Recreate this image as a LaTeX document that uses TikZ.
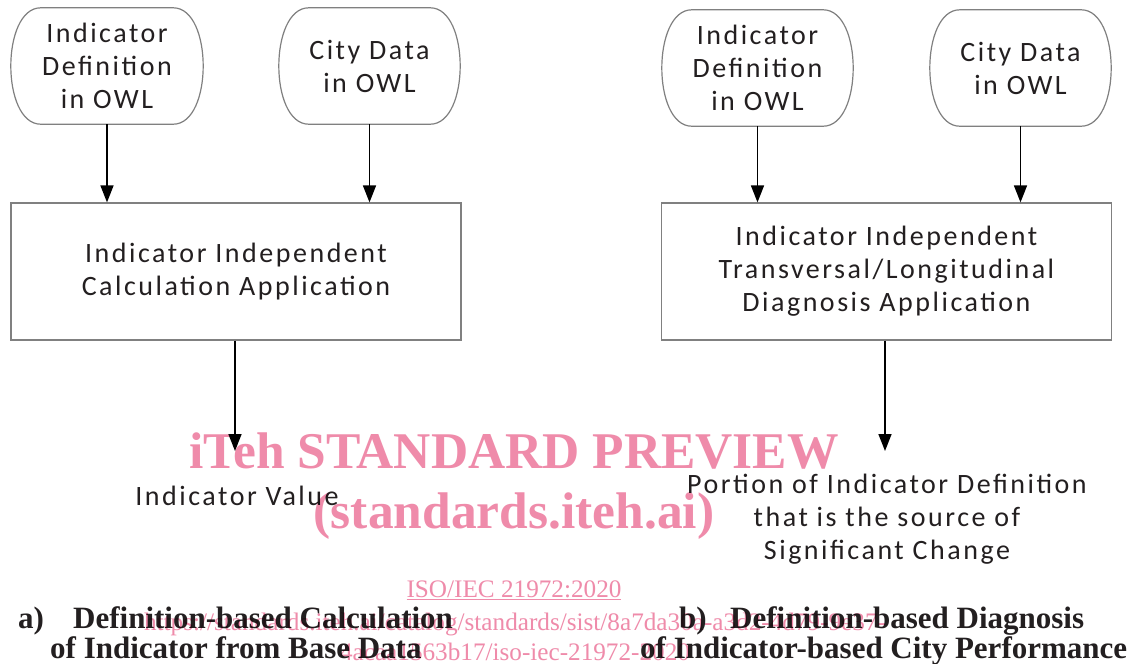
\documentclass[tikz,border=0pt]{standalone}
\usepackage{fontspec}
\setmainfont[LetterSpace=9]{Carlito}
\newfontfamily\capfont{Liberation Serif}
\newfontfamily\wmfont{Liberation Serif}
\usetikzlibrary{arrows.meta}
\definecolor{txt}{HTML}{231F20}
\definecolor{edge}{HTML}{808080}
\definecolor{wm}{RGB}{239,139,170}
\tikzset{
  lbl/.style={font=\fontsize{28}{33}\selectfont, text=txt, align=center, inner sep=0pt},
  ovalbox/.style={lbl, minimum height=116pt},
  appbox/.style={lbl, draw=edge, line width=1.2pt, minimum width=450pt, minimum height=137pt},
  arr/.style={draw=black, line width=1.5pt, -{Triangle[length=17pt,width=13pt]}},
  outline/.style={draw=edge, line width=1.2pt},
  captext/.style={font=\capfont\bfseries\fontsize{31}{33}\selectfont, text=txt, inner sep=0pt, anchor=base west},
  wmtext/.style={text=wm, inner sep=0pt, anchor=base}
}
\begin{document}
\begin{tikzpicture}[x=1pt,y=-1pt]
\path[use as bounding box, fill=white] (0,0) rectangle (1138,664);

% top oval nodes
\node[ovalbox, minimum width=192pt] (d1) at (107,66) {Indicator\\Definition\\in OWL};
\node[ovalbox, minimum width=181pt] (c1) at (369.5,66) {City Data\\in OWL};
\node[ovalbox, minimum width=191pt] (d2) at (757.5,68) {Indicator\\Definition\\in OWL};
\node[ovalbox, minimum width=181pt] (c2) at (1020.5,68) {City Data\\in OWL};
\foreach \n in {d1,c1,d2,c2}{
  \draw[outline] ([xshift=30pt]\n.north west) -- ([xshift=-30pt]\n.north east)
    .. controls ([xshift=10pt]\n.north east) and ([xshift=10pt]\n.south east) .. ([xshift=-30pt]\n.south east)
    -- ([xshift=30pt]\n.south west)
    .. controls ([xshift=-10pt]\n.south west) and ([xshift=-10pt]\n.north west) .. cycle;
}

% application boxes
\node[appbox] (b1) at (236,271.5) {Indicator Independent\\Calculation Application};
\node[appbox] (b2) at (886.5,271.5) {Indicator Independent\\Transversal/Longitudinal\\Diagnosis Application};

% arrows in
\draw[arr] (d1.south) -- (d1.south |- b1.north);
\draw[arr] (c1.south) -- (c1.south |- b1.north);
\draw[arr] (d2.south) -- (d2.south |- b2.north);
\draw[arr] (c2.south) -- (c2.south |- b2.north);

% outputs
\node[lbl, anchor=base] (v1) at (237,505) {Indicator Value};
\node[lbl] (v2) at (887,519) {Portion of Indicator Definition\\that is the source of\\Significant Change};
\coordinate (t1) at (235,451);
\coordinate (t2) at (885,451);
\draw[arr] (b1.south -| t1) -- (t1);
\draw[arr] (b2.south -| t2) -- (t2);

% captions
\node[captext] (ca) at (18,628) {a)};
\node[captext] (ca1) at (73,628) {Definition-based Calculation};
\node[captext] (ca2) at (50,658) {of Indicator from Base Data};
\node[captext] (cb) at (679,628) {b)};
\node[captext] (cb1) at (730,628) {Definition-based Diagnosis};
\node[captext] (cb2) at (640,658) {of Indicator-based City Performance};

% watermark
\begin{scope}[blend mode=multiply]
\node[wmtext, font=\wmfont\bfseries\fontsize{51.5}{52}\selectfont] (w1) at (514,468) {iTeh STANDARD PREVIEW};
\node[wmtext, font=\wmfont\bfseries\fontsize{51.5}{52}\selectfont] (w2) at (514,528) {(standards.iteh.ai)};
\node[wmtext, font=\wmfont\fontsize{25.2}{26}\selectfont] (w3) at (514,597) {\underline{ISO/IEC 21972:2020}};
\node[wmtext, font=\wmfont\fontsize{25.2}{26}\selectfont] (w4) at (515,630) {https://standards.iteh.ai/catalog/standards/sist/8a7da30a-a3d2-4d79-9e37-};
\node[wmtext, font=\wmfont\fontsize{25.2}{26}\selectfont] (w5) at (515,660) {4acaa1563b17/iso-iec-21972-2020};
\end{scope}
\end{tikzpicture}
\end{document}
